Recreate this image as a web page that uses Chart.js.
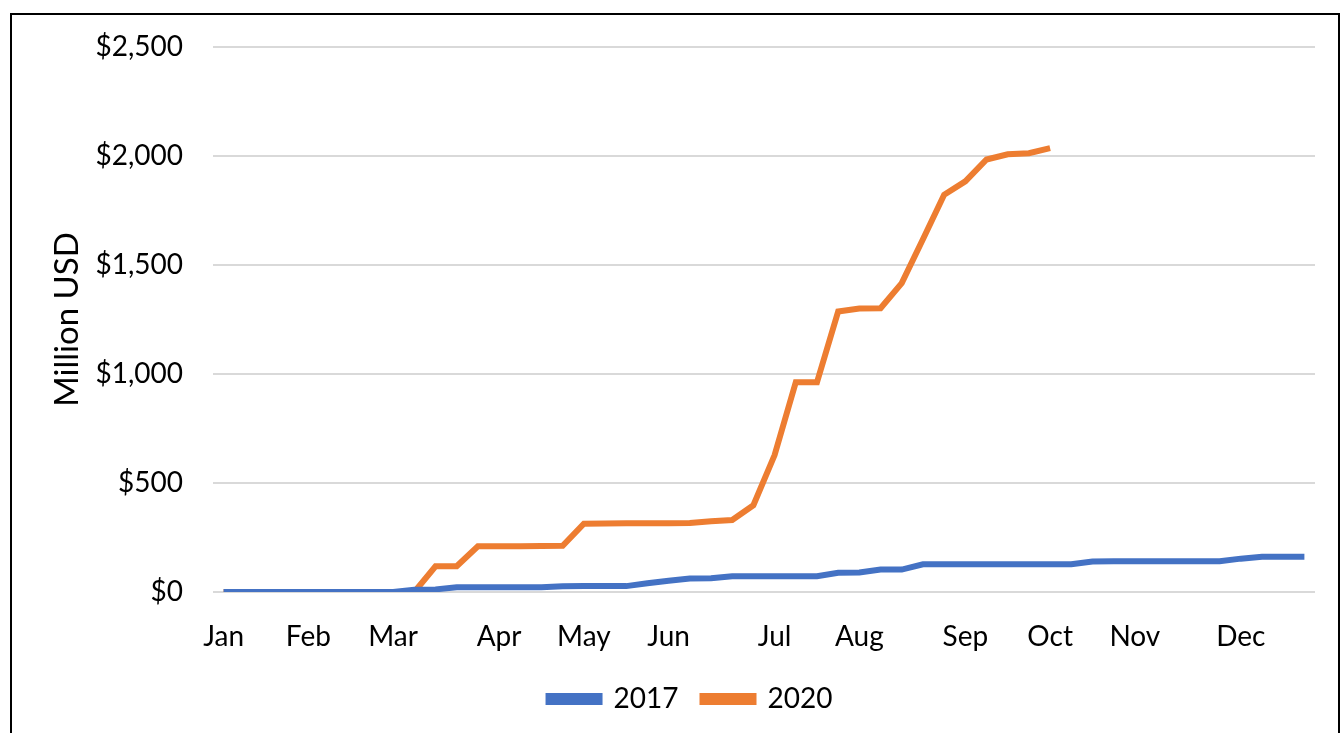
<!DOCTYPE html>
<html lang="en">
<head>
  <meta charset="UTF-8">
  <title>Million USD 2017 vs 2020</title>
  <style>
    html, body { margin: 0; padding: 0; background: #fff; overflow: hidden; }
    #frame {
      position: absolute;
      left: 10px;
      top: 13px;
      width: 1330px;
      height: 760px;
      border: 2px solid #000;
      box-sizing: border-box;
    }
    #wrap {
      position: absolute;
      left: 0;
      top: 0;
      width: 1326px;
      height: 720px;
    }
  </style>
</head>
<body>
  <div id="frame">
    <div id="wrap">
      <canvas id="meuCanvas"></canvas>
    </div>
  </div>

  <script src="https://cdn.jsdelivr.net/npm/chart.js"></script>
  <script>
    // semanas do ano, rótulo do mês só na primeira semana de cada mês
    const weekLabels = Array(52).fill('');
    const monthNames = ['Jan', 'Feb', 'Mar', 'Apr', 'May', 'Jun', 'Jul', 'Aug', 'Sep', 'Oct', 'Nov', 'Dec'];
    const monthWeek = [0, 4, 8, 13, 17, 21, 26, 30, 35, 39, 43, 48];
    monthWeek.forEach((w, i) => { weekLabels[w] = monthNames[i]; });

    const valores2017 = [
      0, 0, 0, 0, 0, 0, 0, 0, 0, 10,
      12, 22, 22, 22, 22, 22, 26, 27, 27, 27,
      40, 52, 62, 63, 72, 72, 72, 72, 72, 88,
      90, 103, 103, 127, 127, 127, 127, 127, 127, 127,
      127, 140, 141, 141, 141, 141, 141, 141, 153, 162,
      162, 162
    ];

    const valores2020 = [
      0, 0, 0, 0, 0, 0, 0, 0, 0, 0,
      118, 118, 210, 210, 210, 211, 212, 313, 314, 315,
      315, 315, 316, 325, 330, 398, 628, 962, 962, 1287,
      1300, 1302, 1417, 1618, 1822, 1884, 1984, 2008, 2013, 2036
    ];

    const yTicks = [0, 500, 1000, 1500, 2000, 2500];

    const fonte = 'Lato';
    const tam = 28;

    // legenda um pouco à direita, como no original
    const legendShift = {
      id: 'legendShift',
      afterLayout(chart) {
        chart.legend.left += 12;
        chart.legend.right += 12;
      }
    };

    const ctx = document.getElementById('meuCanvas').getContext('2d');
    new Chart(ctx, {
      type: 'line',
      data: {
        labels: weekLabels,
        datasets: [
          {
            label: '2017',
            data: valores2017,
            borderColor: '#4472C4',
            backgroundColor: '#4472C4',
            borderWidth: 6,
            pointRadius: 0,
            tension: 0,
            fill: false
          },
          {
            label: '2020',
            data: valores2020,
            borderColor: '#ED7D31',
            backgroundColor: '#ED7D31',
            borderWidth: 6,
            pointRadius: 0,
            tension: 0,
            fill: false
          }
        ]
      },
      plugins: [legendShift],
      options: {
        responsive: true,
        maintainAspectRatio: false,
        animation: false,
        layout: {
          padding: { left: 30, right: 23, top: 32, bottom: 12 }
        },
        plugins: {
          legend: {
            position: 'bottom',
            labels: {
              boxWidth: 51,
              boxHeight: 6,
              padding: 24,
              color: '#000',
              font: { family: fonte, size: tam }
            }
          },
          tooltip: { enabled: false }
        },
        scales: {
          x: {
            offset: true,
            grid: { display: false, drawTicks: false },
            border: { display: false },
            ticks: {
              autoSkip: false,
              maxRotation: 0,
              minRotation: 0,
              padding: 28,
              color: '#000',
              font: { family: fonte, size: tam }
            },
            afterFit: (scale) => {
              scale.height = 69;
              scale.paddingLeft = 0;
              scale.paddingRight = 0;
            }
          },
          y: {
            min: 0,
            max: 2500,
            afterBuildTicks: (scale) => { scale.ticks = yTicks.map(v => ({ value: v })); },
            grid: { color: '#D9D9D9', lineWidth: 2, drawTicks: false },
            border: { display: false },
            title: {
              display: true,
              text: 'Million USD',
              color: '#000',
              padding: { top: 6, bottom: 0 },
              font: { family: fonte, size: 33 }
            },
            ticks: {
              padding: 30,
              color: '#000',
              font: { family: fonte, size: tam },
              callback: (v) => '$' + v.toLocaleString('en-US')
            },
            afterFit: (scale) => {
              scale.width = 171;
              scale.paddingTop = 0;
              scale.paddingBottom = 0;
            }
          }
        }
      }
    });
  </script>
</body>
</html>
